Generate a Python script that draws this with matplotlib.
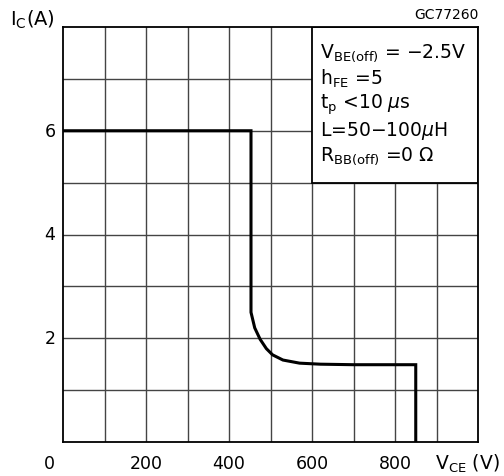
import matplotlib
matplotlib.use("Agg")
from matplotlib import pyplot as plt
from matplotlib.patches import Rectangle

# curve (V_CE in V, I_C in A)
vce = [0, 453, 453, 462, 475, 490, 505, 530, 570, 620, 700, 850, 850]
ic = [6.0, 6.0, 2.5, 2.2, 1.98, 1.8, 1.68, 1.58, 1.52, 1.50, 1.49, 1.49, 0.0]

x_ticks = [200, 400, 600, 800]
y_ticks = [2, 4, 6]
notes = [r"V$_{\mathrm{BE(off)}}$ = $-$2.5V",
         r"h$_{\mathrm{FE}}$ =5",
         r"t$_{\mathrm{p}}$ <10 $\mu$s",
         r"L=50$-$100$\mu$H",
         r"R$_{\mathrm{BB(off)}}$ =0 $\Omega$"]

fig = plt.figure(figsize=(5.04, 4.77), dpi=100)
ax = fig.add_axes([63/504, 34/477, 415/504, 415/477])
ax.set_xlim(0, 1000)
ax.set_ylim(0, 8)

for x in range(100, 1000, 100):
    ax.axvline(x, color="#444444", lw=1.0, zorder=1)
for y in range(1, 8):
    ax.axhline(y, color="#444444", lw=1.0, zorder=1)

# white box that hides the grid behind the notes
ax.add_patch(Rectangle((600, 5), 400, 3, facecolor="white", edgecolor="black", lw=1.3, zorder=2))

ax.plot(vce, ic, color="black", lw=2.2, zorder=3, solid_joinstyle="miter")

for s in ax.spines.values():
    s.set_linewidth(1.3)
ax.set_xticks([])
ax.set_yticks([])

fs = 12.5
for x in x_ticks:
    ax.text(x, -0.4, str(x), ha="center", va="center", fontsize=fs)
for y in y_ticks:
    ax.text(-18, y, str(y), ha="right", va="center", fontsize=fs)
ax.text(-32, -0.4, "0", ha="center", va="center", fontsize=fs)
ax.text(1052, -0.4, r"V$_{\mathrm{CE}}$ (V)", ha="right", va="center", fontsize=13.5)
ax.text(-128, 8.15, r"I$_{\mathrm{C}}$(A)", ha="left", va="center", fontsize=14)
fig.text(446/504, 1 - 15/477, "GC77260", ha="center", va="center", fontsize=10)

for i, t in enumerate(notes):
    ax.text(620, 7.52 - i * 0.5, t, ha="left", va="center", fontsize=13.5, zorder=4)

fig.savefig("out.png", dpi=100)
